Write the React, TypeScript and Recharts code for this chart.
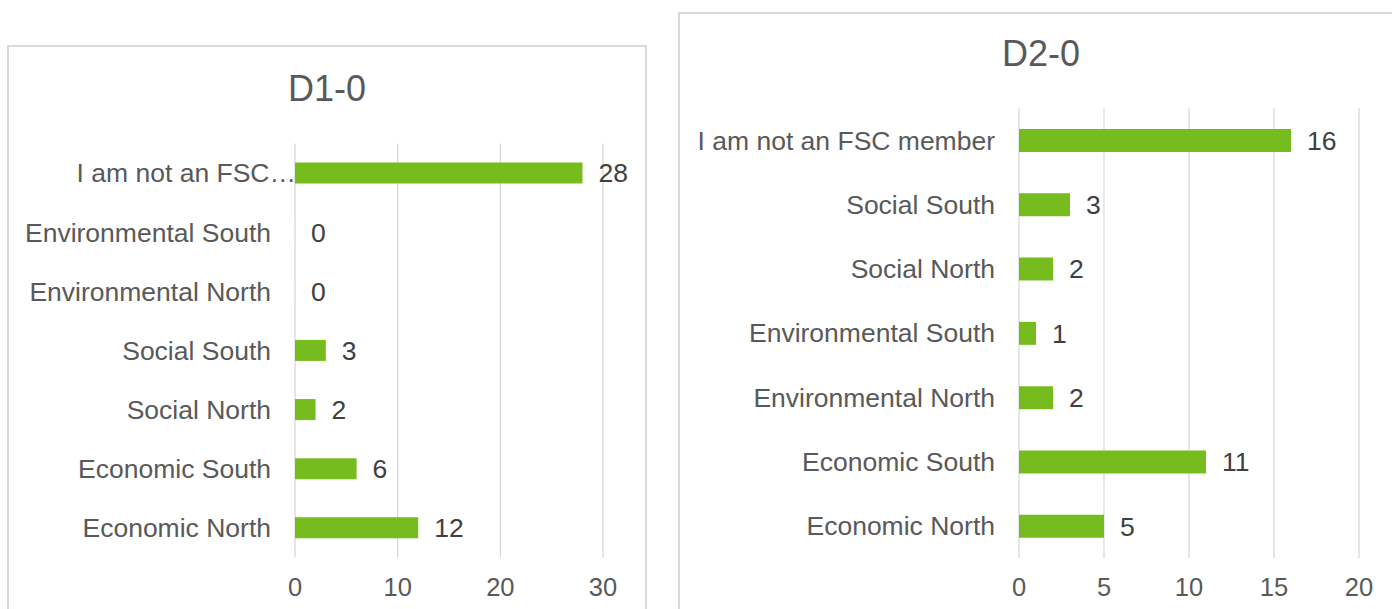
import { BarChart, Bar, XAxis, YAxis, CartesianGrid, LabelList } from 'recharts'

const d1Labels = [
  'I am not an FSC…',
  'Environmental South',
  'Environmental North',
  'Social South',
  'Social North',
  'Economic South',
  'Economic North',
]
const d1Values = [28, 0, 0, 3, 2, 6, 12]
const d1Ticks = [0, 10, 20, 30]

const d2Labels = [
  'I am not an FSC member',
  'Social South',
  'Social North',
  'Environmental South',
  'Environmental North',
  'Economic South',
  'Economic North',
]
const d2Values = [16, 3, 2, 1, 2, 11, 5]
const d2Ticks = [0, 5, 10, 15, 20]

const GREEN = '#77bc1f'
const GRID = '#d9d9d9'
const LABEL = '#595959'
const VALUE = '#404040'
const FONT = '"Liberation Sans", Arial, sans-serif'

function CatTick(props: any) {
  const { x, y, payload } = props
  const text: string = payload.value
  // Excel lets the ellipsis run up to the axis
  const dx = text.endsWith('…') ? 25 : 0
  return (
    <text x={x + dx} y={y} dy="0.355em" textAnchor="end" fill={LABEL} fontSize={26.5} fontFamily={FONT}>
      {text}
    </text>
  )
}

function ValueLabel(props: any) {
  const { x, y, width, height, value } = props
  return (
    <text x={x + width + 16} y={y + height / 2} dy="0.355em" fill={VALUE} fontSize={26.5} fontFamily={FONT}>
      {value}
    </text>
  )
}

interface ChartProps {
  labels: string[]
  values: number[]
  ticks: number[]
  width: number
  margin: { top: number; right: number; bottom: number; left: number }
  yWidth: number
  barSize: number
}

function HBarChart({ labels, values, ticks, width, margin, yWidth, barSize }: ChartProps) {
  const data = labels.map((name, i) => ({ name, value: values[i] }))
  return (
    <BarChart layout="vertical" width={width} height={609} data={data} margin={margin}>
      <CartesianGrid horizontal={false} stroke={GRID} strokeWidth={1.3} />
      <XAxis
        type="number"
        domain={[ticks[0], ticks[ticks.length - 1]]}
        ticks={ticks}
        interval={0}
        axisLine={false}
        tickLine={false}
        tickSize={0}
        tickMargin={20}
        height={40}
        tick={{ fill: LABEL, fontSize: 25.5, fontFamily: FONT }}
      />
      <YAxis
        type="category"
        dataKey="name"
        width={yWidth}
        interval={0}
        axisLine={false}
        tickLine={false}
        tickSize={0}
        tickMargin={24}
        tick={<CatTick />}
      />
      <Bar dataKey="value" fill={GREEN} barSize={barSize} minPointSize={0.01} isAnimationActive={false}>
        <LabelList dataKey="value" content={<ValueLabel />} />
      </Bar>
    </BarChart>
  )
}

export default function App() {
  return (
    <div
      style={{
        position: 'absolute',
        left: 0,
        top: 0,
        width: 1392,
        height: 609,
        overflow: 'hidden',
        background: '#fff',
        fontFamily: FONT,
      }}
    >
      <div
        style={{
          position: 'absolute',
          left: 7,
          top: 45,
          width: 640,
          height: 700,
          border: `2px solid ${GRID}`,
          boxSizing: 'border-box',
        }}
      />
      <div
        style={{
          position: 'absolute',
          left: 678,
          top: 12,
          width: 800,
          height: 700,
          border: `2px solid ${GRID}`,
          boxSizing: 'border-box',
        }}
      />
      <div style={{ position: 'absolute', left: 227, width: 200, top: 71, textAlign: 'center', fontSize: 36, lineHeight: '36px', color: LABEL }}>
        D1-0
      </div>
      <div style={{ position: 'absolute', left: 941, width: 200, top: 36, textAlign: 'center', fontSize: 36, lineHeight: '36px', color: LABEL }}>
        D2-0
      </div>
      <div style={{ position: 'absolute', left: 0, top: 0 }}>
        <HBarChart
          labels={d1Labels}
          values={d1Values}
          ticks={d1Ticks}
          width={680}
          margin={{ top: 143.5, right: 77, bottom: 11.5, left: 0 }}
          yWidth={295}
          barSize={21}
        />
      </div>
      <div style={{ position: 'absolute', left: 680, top: 0 }}>
        <HBarChart
          labels={d2Labels}
          values={d2Values}
          ticks={d2Ticks}
          width={712}
          margin={{ top: 108, right: 33, bottom: 11, left: 0 }}
          yWidth={339}
          barSize={23}
        />
      </div>
    </div>
  )
}
